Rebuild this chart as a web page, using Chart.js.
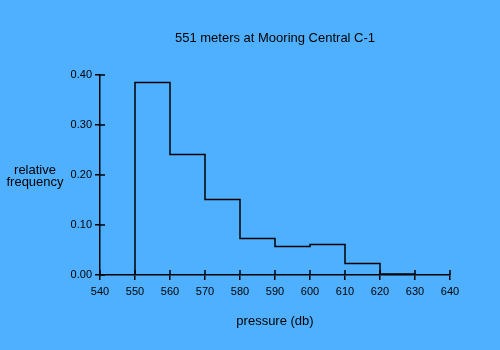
<!DOCTYPE html>
<html>
<head>
<meta charset="utf-8">
<script src="https://cdn.jsdelivr.net/npm/chart.js@4.4.0/dist/chart.umd.min.js"></script>
<style>
  html, body { margin: 0; padding: 0; background: #4fb0ff; }
  #wrap { width: 500px; height: 350px; }
</style>
</head>
<body>
<div id="wrap"><canvas id="chart" width="500" height="350"></canvas></div>
<script>
// histogram bins (pressure, db) and relative frequency per bin
const binEdges = [550, 560, 570, 580, 590, 600, 610, 620, 630];
const freqs = [0.385, 0.241, 0.151, 0.073, 0.057, 0.061, 0.023, 0.002];

const titleText = "551 meters at Mooring Central C-1";
const xTitle = "pressure (db)";
const yTitle = ["relative", "frequency"];

const ink = "#000000";
const font = "Liberation Sans, Arial, Helvetica, sans-serif";

// outline of the histogram: start on the axis, then one point per right bin edge
var outline = [{ x: binEdges[0], y: 0 }];
binEdges.slice(1).forEach(function (e, i) {
  outline.push({ x: e, y: freqs[i] });
});

// ticks that cross the axis line (Chart.js only draws them outside)
var crossTicks = {
  id: "crossTicks",
  afterDraw: function (chart) {
    var ctx = chart.ctx, a = chart.chartArea;
    var xs = chart.scales.x, ys = chart.scales.y;
    ctx.save();
    ctx.strokeStyle = ink;
    ctx.lineWidth = 1.5;
    ctx.beginPath();
    xs.ticks.forEach(function (t) {
      var px = xs.getPixelForValue(t.value);
      ctx.moveTo(px, a.bottom);
      ctx.lineTo(px, a.bottom - 5);
    });
    ys.ticks.forEach(function (t) {
      var py = ys.getPixelForValue(t.value);
      ctx.moveTo(a.left, py);
      ctx.lineTo(a.left + 5, py);
    });
    ctx.stroke();
    ctx.restore();
  }
};

// title and axis captions
var captions = {
  id: "captions",
  afterDraw: function (chart) {
    var ctx = chart.ctx, a = chart.chartArea;
    var mid = (a.left + a.right) / 2;
    ctx.save();
    ctx.fillStyle = ink;
    ctx.font = "13px " + font;
    ctx.textAlign = "center";
    ctx.textBaseline = "middle";
    ctx.fillText(titleText, mid, 38);
    ctx.fillText(xTitle, mid, 321);
    yTitle.forEach(function (line, i) {
      ctx.fillText(line, 35, 170 + i * 12.5);
    });
    ctx.restore();
  }
};

new Chart(document.getElementById("chart"), {
  type: "line",
  data: {
    datasets: [{
      data: outline,
      stepped: "after",
      borderColor: ink,
      borderWidth: 1.5,
      pointRadius: 0,
      fill: false,
      clip: false
    }]
  },
  options: {
    responsive: false,
    animation: false,
    layout: { padding: { top: 75, right: 50, left: 0, bottom: 0 } },
    plugins: {
      legend: { display: false },
      tooltip: { enabled: false }
    },
    scales: {
      x: {
        type: "linear",
        min: 540,
        max: 640,
        ticks: { stepSize: 10, color: ink, padding: 5, font: { family: font, size: 11 } },
        grid: { drawOnChartArea: false, tickLength: 5, color: ink, lineWidth: 1.5 },
        border: { color: ink, width: 1.5 },
        afterFit: function (s) { s.height = 75; }
      },
      y: {
        min: 0,
        max: 0.4,
        ticks: {
          stepSize: 0.1, color: ink, padding: 3, font: { family: font, size: 11 },
          callback: function (v) { return v.toFixed(2); }
        },
        grid: { drawOnChartArea: false, tickLength: 5, color: ink, lineWidth: 1.5 },
        border: { color: ink, width: 1.5 },
        afterFit: function (s) { s.width = 100; }
      }
    }
  },
  plugins: [crossTicks, captions]
});
</script>
</body>
</html>
